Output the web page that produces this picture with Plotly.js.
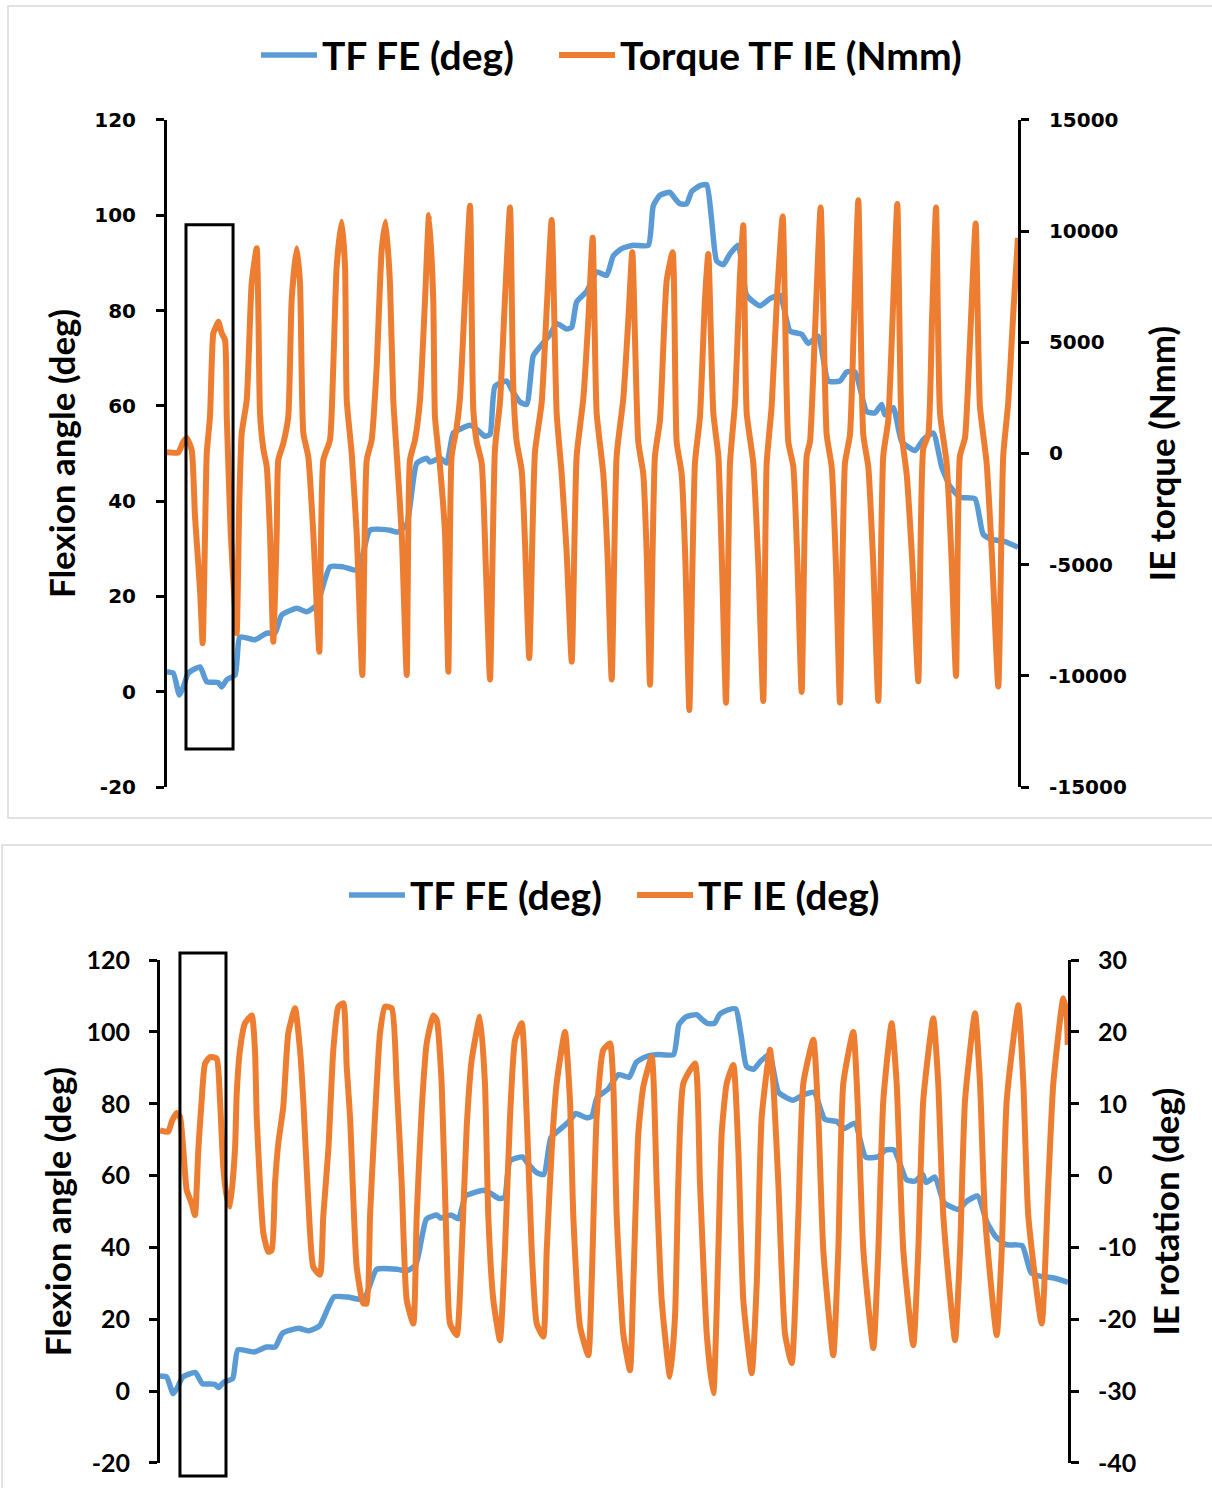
<!DOCTYPE html>
<html>
<head>
<meta charset="utf-8">
<script src="https://cdn.plot.ly/plotly-3.0.1.min.js"></script>
<style>
  html, body { margin: 0; padding: 0; background: #ffffff; }
  #chart { width: 1212px; height: 1488px; }
</style>
</head>
<body>
<div id="chart"></div>
<script>
// ---------------- DATA (time in % of trial) ----------------
const timeFE = [0.0,0.74,1.45,1.92,2.50,3.88,4.67,6.03,6.43,7.02,8.0,8.58,10.34,11.72,12.69,13.48,15.24,16.42,17.59,19.15,20.68,22.44,23.85,26.20,27.14,28.17,29.34,30.52,30.90,32.08,32.87,33.64,34.43,35.61,36.39,37.37,37.96,38.54,39.92,40.50,41.48,42.27,43.04,43.83,45.01,45.79,46.97,47.56,48.14,49.32,50.49,51.67,52.45,53.43,54.79,56.56,57.14,57.93,59.11,59.69,60.28,61.07,61.66,62.63,63.42,64.00,64.59,65.37,66.16,67.13,68.12,69.68,70.86,72.03,73.21,74.58,75.36,76.53,77.71,79.08,79.87,80.85,82.22,83.20,83.98,84.37,85.35,86.34,87.90,88.87,90.05,91.04,92.01,93.18,94.95,95.92,97.10,98.47,100.0];
const flexionFE = [4.2,3.9,-0.7,1.0,3.9,5.2,2.1,1.9,1.0,2.5,3.5,11.5,10.9,12.3,12.3,16.1,17.5,16.8,18.2,26.2,26.2,25.5,33.9,33.9,33.5,35.1,47.9,49.0,48.2,49.0,48.0,54.3,55.1,55.9,55.1,53.6,54.0,64.1,65.2,63.4,60.8,60.3,70.5,72.4,75.0,77.3,76.1,76.5,81.8,84.0,88.1,87.4,91.5,93.0,93.7,93.7,102.0,104.2,104.8,103.5,102.4,102.4,105.0,106.2,106.4,99.0,90.4,89.6,91.9,93.7,83.2,81.0,82.5,83.2,75.7,75.0,73.1,74.6,65.2,65.2,67.1,67.1,58.8,58.5,60.3,58.1,59.6,52.5,50.6,52.9,54.3,47.2,43.1,40.8,40.5,33.0,31.9,31.5,30.3];

const timeTorque = [0.0,1.33,1.92,2.31,2.90,3.29,3.88,4.19,4.47,4.67,5.05,5.44,5.76,6.03,6.43,6.82,7.02,7.49,7.99,8.19,8.50,8.78,9.37,9.95,10.54,10.73,10.93,11.32,11.72,12.10,12.49,12.89,13.08,13.67,14.25,14.65,15.24,15.63,16.02,16.60,17.19,17.90,18.37,19.15,19.54,19.94,20.53,20.92,21.12,21.70,22.29,22.95,23.47,24.05,24.64,25.23,25.70,26.20,26.59,26.99,27.58,28.17,28.55,29.14,29.73,30.32,30.79,31.29,31.49,32.08,32.67,33.06,33.45,34.04,34.43,35.02,35.61,35.99,36.39,36.98,37.46,37.96,38.54,39.13,39.72,40.31,40.69,41.09,41.68,42.07,42.57,43.24,44.03,44.62,45.20,45.79,46.38,46.97,47.56,48.14,48.92,49.51,50.02,50.49,51.27,51.76,52.26,52.84,53.62,54.21,54.68,55.38,55.97,56.37,56.76,57.34,57.93,58.72,59.42,59.89,60.48,60.93,61.38,62.04,62.63,63.22,63.61,64.20,64.79,65.22,65.69,66.16,66.75,67.33,67.72,68.12,68.90,69.49,70.07,70.47,71.06,71.68,72.35,73.01,73.60,74.09,74.58,75.17,75.56,76.15,76.81,77.52,78.11,78.61,79.08,79.67,80.26,80.73,81.24,81.82,82.41,83.00,83.59,84.17,84.76,85.31,85.82,86.34,86.92,87.60,88.29,88.87,89.46,89.90,90.37,90.84,91.62,92.17,92.72,93.18,93.77,94.36,95.03,95.53,96.32,97.00,97.69,98.27,98.86,99.45,100.0];
const torqueIE = [50,50,530,700,157,-2843,-6140,-8537,-3590,9,1655,5406,5700,5928,5406,5105,1655,-3590,-7039,-8087,-2091,909,2406,7655,9228,6500,1800,200,-594,-3590,-8464,-3590,-292,459,1655,6904,9228,7655,909,-144,-3590,-8914,-292,607,3904,8402,10426,8402,2406,9,-3590,-9963,-292,607,3904,9153,10426,7655,2406,9,-3590,-9963,-292,607,2406,6904,10727,6904,1655,-594,-3590,-9814,-112,1174,2500,7000,11141,2000,531,-436,-5000,-10165,207,2298,7000,11064,3000,531,-756,-4000,-9198,49,2298,6500,10502,1817,-918,-4500,-9360,-112,2460,6000,9697,1817,-918,-4500,-10165,-112,2460,6000,9054,531,-918,-4500,-10404,-112,1493,7768,9054,531,-918,-5000,-11533,-436,1655,6963,8973,1817,-112,-5000,-11209,-436,2298,8000,10259,1817,-436,-5000,-11133,-436,2136,7000,10660,531,-598,-5000,-10727,-112,531,5500,11064,850,-598,-5000,-11209,-436,850,6000,11384,850,-598,-5000,-11133,-112,1493,6500,11222,850,-918,-5000,-10246,207,850,6000,11064,1817,-436,-4500,-10008,-112,693,5000,10340,2136,-436,-5000,-10485,-112,2298,6319,9697];

const timeRot = [0.0,0.91,1.29,1.84,2.20,2.57,2.94,3.49,3.85,4.22,4.59,4.96,5.51,6.24,6.61,6.97,7.35,7.71,8.26,8.45,8.81,9.36,10.10,10.46,10.65,11.01,11.38,11.93,12.30,12.67,13.03,13.58,14.13,14.87,15.42,15.78,16.33,16.88,17.62,17.98,18.54,19.09,19.64,20.19,20.56,20.93,21.66,22.39,22.76,23.13,23.49,24.23,24.78,25.52,26.07,26.62,27.17,27.90,28.27,28.82,29.37,30.10,30.47,31.02,31.57,31.94,32.68,33.23,33.78,34.33,35.24,35.79,36.16,36.71,37.44,37.99,38.55,39.10,39.83,40.39,40.94,41.49,42.21,42.59,43.14,43.69,44.60,45.15,45.52,46.26,47.17,47.54,48.09,48.82,49.56,49.92,50.30,51.02,51.76,52.13,52.68,53.23,54.15,54.70,55.25,56.17,56.72,57.08,57.63,58.92,59.47,60.21,60.94,61.49,61.86,62.41,63.14,63.69,64.24,65.17,65.72,66.27,67.18,67.55,68.10,68.83,69.57,70.30,70.85,71.95,72.50,73.05,74.15,74.70,75.25,76.35,76.90,77.46,78.56,79.11,79.66,80.58,81.13,81.86,82.96,83.51,84.06,85.16,85.71,86.27,87.56,88.11,88.66,89.76,90.31,90.86,92.15,92.70,93.25,94.53,95.08,95.63,97.10,97.83,98.38,99.48,99.86,99.97];
const rotationIE = [6.3,6.1,7.5,8.7,8.2,3.6,-2.0,-3.9,-5.5,3.6,10.5,15.6,16.5,16.3,10.5,1.2,-2.9,-4.3,3.6,11.4,17.5,21.2,22.3,17.5,8.2,-1.1,-8.0,-10.6,-10.4,-1.1,4.5,9.6,19.8,23.3,17.5,10.5,-3.4,-12.7,-13.8,-5.7,3.6,17.5,23.5,24.0,15.2,8.2,-12.7,-17.8,-17.8,-5.7,3.6,19.8,23.5,23.3,12.8,-1.1,-17.3,-20.6,-5.7,9.1,18.4,22.3,21.7,12.8,-10.4,-20.6,-22.2,-10.4,6.8,16.1,22.1,12.8,-5.7,-17.3,-22.9,-10.4,8.2,18.9,21.2,8.2,-10.4,-20.6,-22.4,-10.4,3.6,12.9,20.0,10.5,-5.7,-21.0,-25.0,-15.0,8.2,17.5,18.4,12.8,-5.7,-22.0,-27.1,-15.0,5.9,12.4,16.5,-1.1,-17.3,-28.0,-19.6,-1.1,12.8,15.6,-1.1,-22.0,-30.3,-10.4,5.9,12.8,15.4,3.6,-17.3,-27.5,-15.0,8.2,17.5,12.8,-1.1,-22.0,-26.1,-5.7,12.8,18.9,8.2,-10.4,-25.0,-10.4,12.8,20.0,8.2,-10.4,-24.0,-10.4,10.5,21.2,12.8,-10.4,-23.6,-10.4,10.5,21.9,12.8,-5.7,-22.9,-10.4,10.5,22.6,12.8,-5.7,-22.2,-10.4,10.5,23.7,12.8,-5.7,-20.6,-1.1,12.8,24.7,22.1,18.2];

const flexTicks = [-20,0,20,40,60,80,100,120];
const torqueTicks = [-15000,-10000,-5000,0,5000,10000,15000];
const rotTicks = [-40,-30,-20,-10,0,10,20,30];

// ---------------- STYLE ----------------
const BLUE = '#5B9BD5', ORANGE = '#ED7D31';
const hum = 'Lato, "Noto Sans", sans-serif';
const verd = '"DejaVu Sans", Verdana, sans-serif';

function yAx(opts) {
  return Object.assign({
    showline: true, linecolor: '#000', linewidth: 3,
    ticks: 'outside', ticklen: 8, tickwidth: 3, tickcolor: '#000',
    showgrid: false, zeroline: false, fixedrange: true,
    tickmode: 'array'
  }, opts);
}

const traces = [
  {x: timeFE, y: flexionFE, xaxis: 'x', yaxis: 'y', name: 'TF FE (deg)', type: 'scatter', mode: 'lines',
   line: {color: BLUE, width: 5.5, shape: 'spline', smoothing: 0.5}, legend: 'legend'},
  {x: timeTorque, y: torqueIE, xaxis: 'x', yaxis: 'y2', name: 'Torque TF IE (Nmm)', type: 'scatter', mode: 'lines',
   line: {color: ORANGE, width: 6, shape: 'spline', smoothing: 0.5}, legend: 'legend2'},
  {x: timeFE, y: flexionFE, xaxis: 'x2', yaxis: 'y3', name: 'TF FE (deg)', type: 'scatter', mode: 'lines',
   line: {color: BLUE, width: 5.5, shape: 'spline', smoothing: 0.5}, legend: 'legend3'},
  {x: timeRot, y: rotationIE, xaxis: 'x2', yaxis: 'y4', name: 'TF IE (deg)', type: 'scatter', mode: 'lines',
   line: {color: ORANGE, width: 6, shape: 'spline', smoothing: 0.5}, legend: 'legend4'}
];

const legendFont = {family: hum, size: 39, color: '#000', weight: 'bold'};
const titleFont = {family: hum, size: 35, color: '#000', weight: 'bold'};
const topTickFont = {family: verd, size: 20, color: '#000', weight: 'bold'};
const botTickFont = {family: hum, size: 25, color: '#000', weight: 'bold'};

function leg(x, y) {
  return {orientation: 'h', x: x, xanchor: 'left', y: y, yanchor: 'middle',
    font: legendFont, itemwidth: 56, bgcolor: 'rgba(0,0,0,0)'};
}

const layout = {
  width: 1212, height: 1488,
  margin: {l: 0, r: 0, t: 0, b: 0},
  paper_bgcolor: '#fff', plot_bgcolor: 'rgba(0,0,0,0)',
  showlegend: true,
  xaxis: {domain: [0.1378, 0.8399], range: [0, 100], visible: false, anchor: 'y', fixedrange: true},
  yaxis: yAx({domain: [0.4711, 0.9194], range: [-20, 120], anchor: 'x',
    tickvals: flexTicks, ticktext: flexTicks.map(String), tickfont: topTickFont, ticklabelstandoff: 16,
    title: {text: 'Flexion angle (deg)', font: titleFont, standoff: 8}}),
  yaxis2: yAx({overlaying: 'y', side: 'right', anchor: 'x', range: [-15000, 15000],
    tickvals: torqueTicks, ticktext: torqueTicks.map(String), tickfont: topTickFont, ticklabelstandoff: 16,
    title: {text: 'IE torque (Nmm)', font: titleFont, standoff: 25}}),
  xaxis2: {domain: [0.1320, 0.8812], range: [0, 100], visible: false, anchor: 'y3', fixedrange: true},
  yaxis3: yAx({domain: [0.0168, 0.3548], range: [-20, 120], anchor: 'x2',
    tickvals: flexTicks, ticktext: flexTicks.map(String), tickfont: botTickFont, ticklabelstandoff: 14,
    title: {text: 'Flexion angle (deg)', font: titleFont, standoff: 5}}),
  yaxis4: yAx({overlaying: 'y3', side: 'right', anchor: 'x2', range: [-40, 30],
    tickvals: rotTicks, ticktext: rotTicks.map(String), tickfont: botTickFont, ticklabelstandoff: 14,
    title: {text: 'IE rotation (deg)', font: titleFont, standoff: 20}}),
  legend: leg(0.2112, 0.963),
  legend2: leg(0.4571, 0.963),
  legend3: leg(0.2838, 0.3985),
  legend4: leg(0.5215, 0.3985),
  shapes: [
    // panel frames
    {type: 'rect', xref: 'paper', yref: 'paper', x0: 0.0066, x1: 1.01, y0: 0.4503, y1: 0.996,
     line: {color: '#d9d9d9', width: 1.5}, fillcolor: 'rgba(0,0,0,0)', layer: 'below'},
    {type: 'rect', xref: 'paper', yref: 'paper', x0: 0.0017, x1: 1.01, y0: -0.01, y1: 0.4321,
     line: {color: '#d9d9d9', width: 1.5}, fillcolor: 'rgba(0,0,0,0)', layer: 'below'},
    // highlight boxes
    {type: 'rect', xref: 'x', yref: 'y', x0: 2.23, x1: 7.76, y0: -12.0, y1: 98.0,
     line: {color: '#000', width: 3}, fillcolor: 'rgba(0,0,0,0)', layer: 'above'},
    {type: 'rect', xref: 'x2', yref: 'y3 domain', x0: 2.20, x1: 7.27, y0: -0.026, y1: 1.014,
     line: {color: '#000', width: 3}, fillcolor: 'rgba(0,0,0,0)', layer: 'above'}
  ]
};

Plotly.newPlot('chart', traces, layout, {staticPlot: true, displayModeBar: false});
</script>
</body>
</html>
